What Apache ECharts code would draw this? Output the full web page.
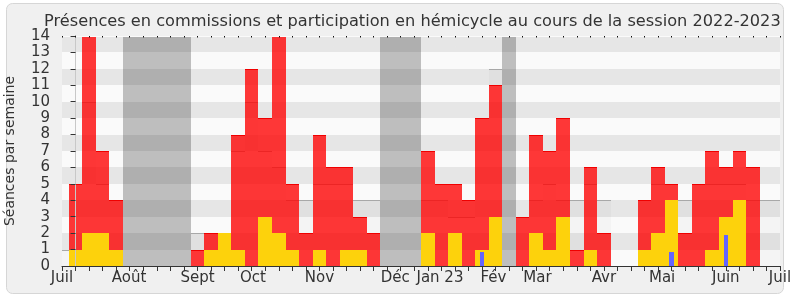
<!DOCTYPE html>
<html><head><meta charset="utf-8">
<script src="https://cdn.jsdelivr.net/npm/echarts@6/dist/echarts.min.js"></script>
<style>html,body{margin:0;padding:0;background:#fff}#c{width:790px;height:300px}</style>
</head><body><div id="c"></div>
<script>
// Week index (0 = first week of the session, ticks are at week centres)
const weeks = [0,1,2,3,4,5,6,7,8,9,10,11,12,13,14,15,16,17,18,19,20,21,22,23,24,25,26,27,28,29,30,31,32,33,34,35,36,37,38,39,40,41,42,43,44,45,46,47,48,49,50];
// Présences en commission (red)
const presences = [5,14,7,4,0,0,0,0,0,1,2,2,8,12,9,14,5,2,8,6,6,3,2,0,0,0,7,5,5,4,9,11,0,3,8,7,9,1,6,2,0,0,4,6,5,2,5,7,6,7,6];
// Participation en hémicycle (yellow)
const participation = [1,2,2,1,0,0,0,0,0,0,1,2,1,0,3,2,1,0,1,0,1,1,0,0,0,0,2,0,2,0,1,3,0,0,2,1,3,0,1,0,0,0,1,2,4,0,0,1,3,4,0];
// Questions orales (blue)
const questionWeeks = [30,44,48];
const questionValues = [0.85,0.85,1.9];
// Médiane des députés (grey step line)
const medianWeeks = [-1,0,1,2,3,4,5,6,7,8,9,10,11,12,13,14,15,16,17,18,19,20,21,22,23,24,25,26,27,28,29,30,31,32,33,34,35,36,37,38,39,40,41,42,43,44,45,46,47,48,49,50,51,52];
const medianValues = [1,5,10,5,4,0,0,0,0,0,2,2,2,7,10,7,6,4,4,5,5,5,4,4,0,0,0,4,4,3,3,9,12,0,3,4,5,4,4,5,4,0,0,4,5,5,4,5,5,5,5,4,4,4];
// Vacances parlementaires
const vacationWeeks = [4,5,6,7,8,23,24,25,32];
// Month labels on the week axis
const monthLabelWeeks = [-1,3.95,9,13.1,18,23.6,26.9,30.85,34.1,39,43.3,48,52];
const monthLabels = ['Juil','Août','Sept','Oct','Nov','Déc','Jan 23','Fév','Mar','Avr','Mai','Juin','Juil'];
const stripeRows = [1,3,5,7,9,11,13];
const X_MIN = -1, X_MAX = 52, Y_MAX = 14;

const chart = echarts.init(document.getElementById('c'), null, {renderer:'canvas'});

function clipX(cs, x){ return Math.max(cs.x, Math.min(cs.x + cs.width, x)); }

function weekRect(params, api, w, v0, v1, halfW){
  const p0 = api.coord([w - halfW, v0]);
  const p1 = api.coord([w + halfW, v1]);
  const cs = params.coordSys;
  const x0 = Math.round(clipX(cs, p0[0])), x1 = Math.round(clipX(cs, p1[0]));
  const yb = Math.round(p0[1]), yt = Math.round(p1[1]);
  return {x: x0, y: yt, width: x1 - x0, height: yb - yt};
}

const option = {
  animation: false,
  textStyle: {fontFamily: 'DejaVu Sans', color: '#333'},
  graphic: [{type:'rect', z:-100, zlevel:0, silent:true,
    shape:{x:6.5, y:3.5, width:777, height:290, r:6},
    style:{fill:'#f0f0f0', stroke:'#d6d6d6', lineWidth:1}}],
  title: {text: 'Présences en commissions et participation en hémicycle au cours de la session 2022-2023',
    left: 39, top: 9, textStyle: {fontFamily:'DejaVu Sans', fontSize: 16.2, fontWeight: 'normal', color: '#333'}},
  grid: {left: 62, top: 36, width: 718, height: 230, show: true, backgroundColor: '#fafafa', borderWidth: 0,
    containLabel: false, outerBoundsMode: 'none'},
  xAxis: [
    {type:'value', min:X_MIN, max:X_MAX, interval:1, position:'bottom', z:10,
      axisLine:{show:true, onZero:false, lineStyle:{color:'#333', width:1}},
      axisTick:{show:true, length:5, lineStyle:{color:'#333'}},
      axisLabel:{show:false}, splitLine:{show:false}},
    {type:'value', min:X_MIN, max:X_MAX, position:'bottom', z:10,
      axisLine:{show:false, onZero:false}, axisTick:{show:false}, splitLine:{show:false},
      axisLabel:{show:true, customValues: monthLabelWeeks, fontSize:15, color:'#333', margin:5,
        fontFamily:'DejaVu Sans',
        formatter: function(v){ const i = monthLabelWeeks.findIndex(m => Math.abs(m - v) < 1e-6); return i >= 0 ? monthLabels[i] : ''; }}},
    {type:'value', min:X_MIN, max:X_MAX, interval:1, position:'top', z:10,
      axisLine:{show:true, onZero:false, lineStyle:{color:'#fafafa', width:1}},
      axisTick:{show:true, length:1.5, inside:true, lineStyle:{color:'#111'}},
      axisLabel:{show:false}, splitLine:{show:false}}
  ],
  yAxis: [
    {type:'value', min:0, max:Y_MAX, interval:1, z:10,
      name:'Séances par semaine', nameLocation:'middle', nameGap:45,
      nameTextStyle:{fontSize:14, color:'#333', fontFamily:'DejaVu Sans'},
      axisLine:{show:true, lineStyle:{color:'#333'}},
      axisTick:{show:true, length:5, lineStyle:{color:'#333'}},
      axisLabel:{fontSize:15, color:'#333', margin:12, fontFamily:'DejaVu Sans'},
      splitLine:{show:false}},
    {type:'value', min:0, max:Y_MAX, interval:1, position:'right', z:10,
      axisLine:{show:true, lineStyle:{color:'#c8c8c8'}},
      axisTick:{show:false}, axisLabel:{show:false}, splitLine:{show:false}}
  ],
  series: [
    {type:'custom', name:'Vacances', z:1, silent:true, xAxisIndex:0, yAxisIndex:0,
      data: vacationWeeks.map(w => [w, Y_MAX]), encode:{x:0, y:1},
      renderItem: function(params, api){
        const r = weekRect(params, api, api.value(0), 0, api.value(1), 0.5);
        return {type:'rect', shape:r, style:{fill:'#bebebe'}};
      }},
    {type:'custom', name:'stripes', z:2, silent:true, xAxisIndex:0, yAxisIndex:0,
      data: stripeRows.map(r => [X_MIN, r]), encode:{x:0, y:1},
      renderItem: function(params, api){
        const r = api.value(1);
        const p0 = api.coord([X_MIN, r]);
        const p1 = api.coord([X_MAX, r + 1]);
        const yb = Math.round(p0[1]), yt = Math.round(p1[1]);
        return {type:'rect', shape:{x:Math.round(p0[0]), y:yt, width:Math.round(p1[0])-Math.round(p0[0]), height:yb-yt}, style:{fill:'rgba(0,0,0,0.08)'}};
      }},
    {type:'custom', name:'Médiane', z:3, silent:true, xAxisIndex:0, yAxisIndex:0,
      data: medianWeeks.map((w, i) => [w, medianValues[i]]), encode:{x:0, y:1},
      renderItem: function(params, api){
        const w = api.value(0), v = api.value(1);
        if (!v) return {type:'group', children:[]};
        const r = weekRect(params, api, w, 0, v, 0.5);
        return {type:'group', children:[
          {type:'rect', shape:r, style:{fill:'rgba(0,0,0,0.025)'}},
          {type:'line', shape:{x1:r.x, y1:r.y + 0.5, x2:r.x + r.width, y2:r.y + 0.5}, style:{stroke:'#a8a8a8', lineWidth:1}}
        ]};
      }},
    {type:'custom', name:'Présences en commission', z:4, silent:true, xAxisIndex:0, yAxisIndex:0,
      data: weeks.map((w, i) => [w, presences[i]]), encode:{x:0, y:1},
      renderItem: function(params, api){
        const w = api.value(0), v = api.value(1);
        if (!v) return {type:'group', children:[]};
        const r = weekRect(params, api, w, 0, Math.min(v, Y_MAX), 0.5);
        const ch = [{type:'rect', shape:r, style:{fill:'rgba(255,0,0,0.78)'}}];
        if (v < Y_MAX) ch.push({type:'line', shape:{x1:r.x, y1:r.y + 0.5, x2:r.x + r.width, y2:r.y + 0.5}, style:{stroke:'#f00000', lineWidth:1}});
        return {type:'group', children:ch};
      }},
    {type:'custom', name:'Participation en hémicycle', z:5, silent:true, xAxisIndex:0, yAxisIndex:0,
      data: weeks.map((w, i) => [w, participation[i]]), encode:{x:0, y:1},
      renderItem: function(params, api){
        const w = api.value(0), v = api.value(1);
        if (!v) return {type:'group', children:[]};
        const r = weekRect(params, api, w, 0, v, 0.5);
        return {type:'rect', shape:r, style:{fill:'#fdd20c'}};
      }},
    {type:'custom', name:'Questions orales', z:6, silent:true, xAxisIndex:0, yAxisIndex:0,
      data: questionWeeks.map((w, i) => [w, questionValues[i]]), encode:{x:0, y:1},
      renderItem: function(params, api){
        const r = weekRect(params, api, api.value(0), 0, api.value(1), 0.17);
        return {type:'rect', shape:r, style:{fill:'#6464ff'}};
      }}
  ]
};
chart.setOption(option);
</script></body></html>
